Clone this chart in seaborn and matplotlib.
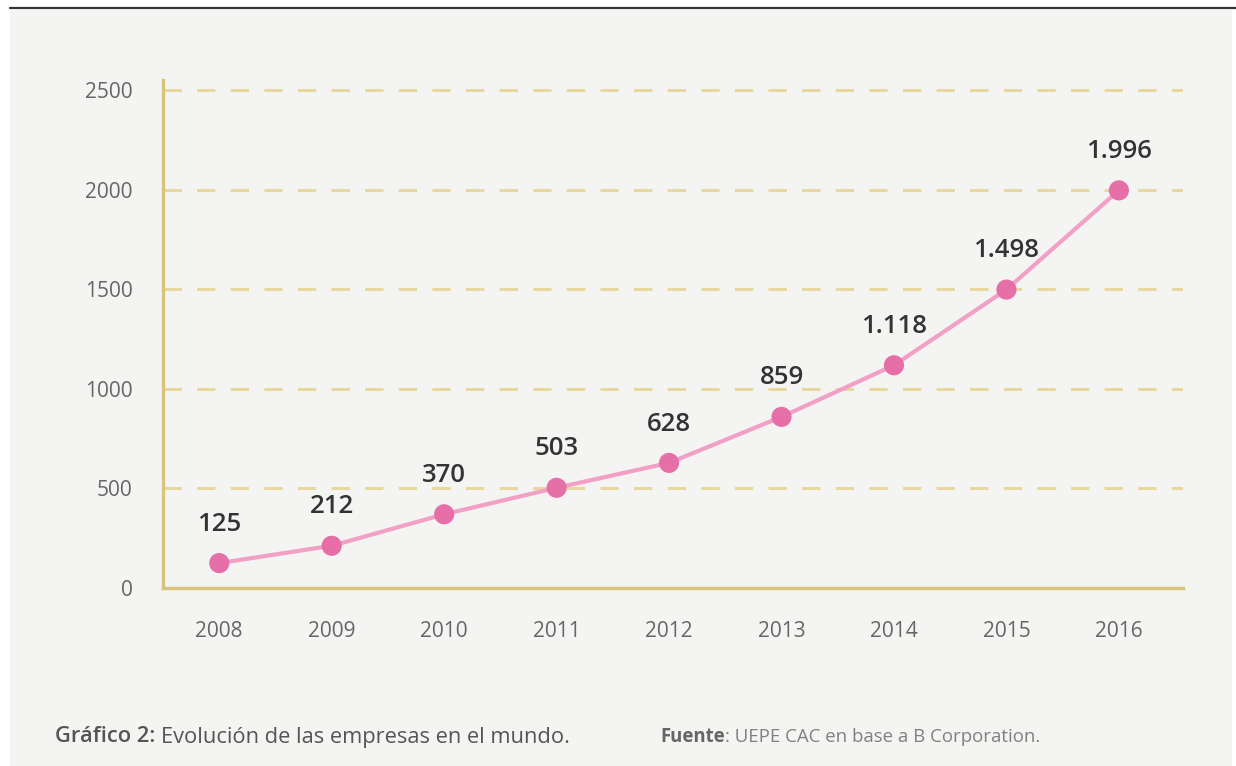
import matplotlib
matplotlib.use("Agg")
import matplotlib.pyplot as plt
import seaborn as sns
import pandas as pd
from matplotlib.patches import Rectangle

# data
years = [2008, 2009, 2010, 2011, 2012, 2013, 2014, 2015, 2016]
companies = [125, 212, 370, 503, 628, 859, 1118, 1498, 1996]
value_labels = ["125", "212", "370", "503", "628", "859", "1.118", "1.498", "1.996"]
y_ticks = [0, 500, 1000, 1500, 2000, 2500]

df = pd.DataFrame({"year": years, "companies": companies})

sns.set_style("white")
plt.rcParams["font.family"] = ["Open Sans", "DejaVu Sans"]

gold = "#d9c47e"
grid_gold = "#e8d8a0"
pink_line = "#f2a0c6"
pink_dot = "#e66fa8"

W, H = 1236, 766
fig = plt.figure(figsize=(W / 100, H / 100), dpi=100)
fig.patch.set_facecolor("white")

# paper-like panel and the dark rule at the top
fig.patches.append(Rectangle((10 / W, 0), 1222 / W, 756 / H,
                             transform=fig.transFigure, facecolor="#f4f4f3",
                             edgecolor="none", zorder=-5))
fig.add_artist(plt.Line2D([10 / W, 1.0], [758 / H, 758 / H],
                          transform=fig.transFigure, color="#333333", lw=1.6))

ax = fig.add_axes([163 / W, 178 / H, 1020 / W, 508 / H])
ax.set_facecolor("none")
ax.set_zorder(2)

sns.lineplot(data=df, x="year", y="companies", ax=ax, color=pink_line,
             linewidth=3, zorder=3)
sns.scatterplot(data=df, x="year", y="companies", ax=ax, color=pink_dot,
                s=210, edgecolor="none", zorder=4)

for x, y, lab in zip(years, companies, value_labels):
    ax.annotate(lab, (x, y), xytext=(0, 19), textcoords="offset points",
                ha="center", va="bottom", fontsize=18.5, fontweight="semibold",
                color="#333333")

ax.set_xlim(2007.5, 2016.57)
ax.set_ylim(0, 2550)
ax.set_xticks(years)
ax.set_yticks(y_ticks)
ax.set_xticklabels([str(y) for y in years])
ax.tick_params(axis="both", length=0, labelsize=15, colors="#666666")
ax.tick_params(axis="x", pad=24)
ax.tick_params(axis="y", pad=22)
ax.set_xlabel("")
ax.set_ylabel("")

for yt in y_ticks[1:]:
    ax.axhline(yt, color=grid_gold, lw=2.2, dashes=(6, 5), zorder=1)

for side in ["top", "right"]:
    ax.spines[side].set_visible(False)
for side in ["left", "bottom"]:
    ax.spines[side].set_color(gold)
    ax.spines[side].set_linewidth(2.4)

# caption pieces placed one after another
renderer = fig.canvas.get_renderer()


def chain(x_px, pieces, y_px):
    for txt, size, weight, color in pieces:
        t = fig.text(x_px / W, y_px / H, txt, fontsize=size, fontweight=weight,
                     color=color, va="center")
        x_px += t.get_window_extent(renderer).width


chain(55, [("Gráfico 2: ", 15.75, "semibold", "#555555"),
           ("Evolución de las empresas en el mundo.", 15.75, "normal", "#555555")], 29)
chain(660, [("Fuente", 13.45, "bold", "#666666"),
            (": UEPE CAC en base a B Corporation.", 13.45, "normal", "#808080")], 29)

fig.savefig("out.png", dpi=100)
